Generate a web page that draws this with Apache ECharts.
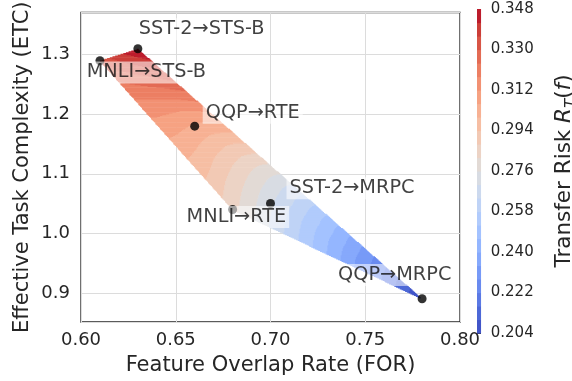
<!DOCTYPE html>
<html>
<head>
<meta charset="utf-8">
<script src="https://cdn.jsdelivr.net/npm/echarts@6/dist/echarts.min.js"></script>
<style>
html,body{margin:0;padding:0;background:#fff;}
#chart{width:572px;height:381px;}
</style>
</head>
<body>
<div id="chart"></div>
<script>
// ---------------- data ----------------
const taskPairs  = ['SST-2→STS-B', 'MNLI→STS-B', 'QQP→RTE', 'MNLI→RTE', 'SST-2→MRPC', 'QQP→MRPC'];
const forValues  = [0.63, 0.61, 0.66, 0.68, 0.70, 0.78];   // Feature Overlap Rate
const etcValues  = [1.31, 1.29, 1.18, 1.04, 1.05, 0.89];   // Effective Task Complexity
const riskValues = [0.348, 0.332, 0.305, 0.284, 0.271, 0.204]; // Transfer Risk
const riskLevels = [0.204, 0.210, 0.216, 0.222, 0.228, 0.234, 0.240, 0.246, 0.252,
                    0.258, 0.264, 0.270, 0.276, 0.282, 0.288, 0.294, 0.300, 0.306,
                    0.312, 0.318, 0.324, 0.330, 0.336, 0.342, 0.348];
const colorbarTicks = [0.204, 0.222, 0.240, 0.258, 0.276, 0.294, 0.312, 0.330, 0.348];

// ---------------- layout / style ----------------
const labelPlacement = [[1, -19.5], [-13.3, 11.7], [11, -13.5], [-46, 7.5], [19, -15.3], [-84, -23.7]];
const textColor = '#262626';
const fontFamily = '"DejaVu Sans", sans-serif';
const coolwarmTable = [
 [59,76,192],[68,90,204],[77,104,215],[87,117,225],[98,130,234],[108,142,241],[119,154,247],
 [130,165,251],[141,176,254],[152,185,255],[163,194,255],[174,201,253],[184,208,249],[194,213,244],
 [204,217,238],[213,219,230],[221,221,221],[229,216,209],[236,211,197],[241,204,184],[245,196,172],
 [247,187,159],[247,177,147],[247,166,134],[244,154,123],[241,141,111],[236,127,99],[229,112,88],
 [222,96,77],[213,80,66],[203,62,56],[192,40,47],[180,4,38]];

function coolwarm(t) {
  t = Math.max(0, Math.min(1, t));
  const p = t * (coolwarmTable.length - 1);
  const i = Math.min(Math.floor(p), coolwarmTable.length - 2);
  const f = p - i;
  const a = coolwarmTable[i], b = coolwarmTable[i + 1];
  const c = [0,1,2].map(k => Math.round(a[k] + (b[k] - a[k]) * f));
  return 'rgb(' + c.join(',') + ')';
}
const nBands = riskLevels.length - 1;
const bandColors = [];
for (let i = 0; i < nBands; i++) bandColors.push(coolwarm((i + 0.5) / nBands));

// ---------------- Delaunay triangulation (brute force) ----------------
const px = forValues, py = etcValues, fv = riskValues;
const nP = px.length;
const tris = [];
for (let i = 0; i < nP; i++) for (let j = i + 1; j < nP; j++) for (let k = j + 1; k < nP; k++) {
  const ax = px[i], ay = py[i], bx = px[j], by = py[j], cx = px[k], cy = py[k];
  const d = 2 * (ax * (by - cy) + bx * (cy - ay) + cx * (ay - by));
  if (Math.abs(d) < 1e-14) continue;
  const a2 = ax*ax + ay*ay, b2 = bx*bx + by*by, c2 = cx*cx + cy*cy;
  const ux = (a2 * (by - cy) + b2 * (cy - ay) + c2 * (ay - by)) / d;
  const uy = (a2 * (cx - bx) + b2 * (ax - cx) + c2 * (bx - ax)) / d;
  const r2 = (ax - ux) ** 2 + (ay - uy) ** 2;
  let ok = true;
  for (let m = 0; m < nP; m++) {
    if (m === i || m === j || m === k) continue;
    if ((px[m] - ux) ** 2 + (py[m] - uy) ** 2 < r2 * (1 - 1e-10)) { ok = false; break; }
  }
  if (ok) tris.push([i, j, k]);
}
const neighbors = tris.map((t, ti) => [0,1,2].map(k => {
  const a = t[(k + 1) % 3], b = t[(k + 2) % 3];
  for (let tj = 0; tj < tris.length; tj++) {
    if (tj === ti) continue;
    if (tris[tj].includes(a) && tris[tj].includes(b)) return tj;
  }
  return -1;
}));
function bary(ti, x, y) {
  const [i0, i1, i2] = tris[ti];
  const x0 = px[i0], y0 = py[i0], x1 = px[i1], y1 = py[i1], x2 = px[i2], y2 = py[i2];
  const det = (y1 - y2) * (x0 - x2) + (x2 - x1) * (y0 - y2);
  const b0 = ((y1 - y2) * (x - x2) + (x2 - x1) * (y - y2)) / det;
  const b1 = ((y2 - y0) * (x - x2) + (x0 - x2) * (y - y2)) / det;
  return [b0, b1, 1 - b0 - b1];
}

// ---------------- gradient estimation (global, min curvature) ----------------
const vnb = Array.from({length: nP}, () => new Set());
tris.forEach(t => t.forEach(a => t.forEach(b => { if (a !== b) vnb[a].add(b); })));
const gx = new Array(nP).fill(0), gy = new Array(nP).fill(0);
for (let it = 0; it < 400; it++) {
  let err = 0;
  for (let i = 0; i < nP; i++) {
    let q00 = 0, q01 = 0, q11 = 0, s0 = 0, s1 = 0;
    vnb[i].forEach(j => {
      const ex = px[j] - px[i], ey = py[j] - py[i];
      const L = Math.hypot(ex, ey), L3 = L * L * L;
      const df2 = -ex * gx[j] - ey * gy[j];
      q00 += 4 * ex * ex / L3; q01 += 4 * ex * ey / L3; q11 += 4 * ey * ey / L3;
      const t = 6 * (fv[i] - fv[j]) - 2 * df2;
      s0 += t * ex / L3; s1 += t * ey / L3;
    });
    const det = q00 * q11 - q01 * q01;
    const r0 = (q11 * s0 - q01 * s1) / det, r1 = (-q01 * s0 + q00 * s1) / det;
    err = Math.max(err, Math.abs(gx[i] + r0), Math.abs(gy[i] + r1));
    gx[i] = -r0; gy[i] = -r1;
  }
  if (err < 1e-9) break;
}

// ---------------- Clough-Tocher coefficients per triangle ----------------
const coeffs = tris.map((t, ti) => {
  const [i0, i1, i2] = t;
  const e12x = px[i1] - px[i0], e12y = py[i1] - py[i0];
  const e23x = px[i2] - px[i1], e23y = py[i2] - py[i1];
  const e31x = px[i0] - px[i2], e31y = py[i0] - py[i2];
  const df12 = +(gx[i0] * e12x + gy[i0] * e12y);
  const df21 = -(gx[i1] * e12x + gy[i1] * e12y);
  const df23 = +(gx[i1] * e23x + gy[i1] * e23y);
  const df32 = -(gx[i2] * e23x + gy[i2] * e23y);
  const df31 = +(gx[i2] * e31x + gy[i2] * e31y);
  const df13 = -(gx[i0] * e31x + gy[i0] * e31y);
  const c = {};
  c.c3000 = fv[i0]; c.c2100 = (df12 + 3 * c.c3000) / 3; c.c2010 = (df13 + 3 * c.c3000) / 3;
  c.c0300 = fv[i1]; c.c1200 = (df21 + 3 * c.c0300) / 3; c.c0210 = (df23 + 3 * c.c0300) / 3;
  c.c0030 = fv[i2]; c.c1020 = (df31 + 3 * c.c0030) / 3; c.c0120 = (df32 + 3 * c.c0030) / 3;
  c.c2001 = (c.c2100 + c.c2010 + c.c3000) / 3;
  c.c0201 = (c.c1200 + c.c0300 + c.c0210) / 3;
  c.c0021 = (c.c1020 + c.c0120 + c.c0030) / 3;
  const g = [0, 0, 0];
  for (let k = 0; k < 3; k++) {
    const nt = neighbors[ti][k];
    if (nt < 0) { g[k] = -0.5; continue; }
    const cx = (px[tris[nt][0]] + px[tris[nt][1]] + px[tris[nt][2]]) / 3;
    const cy = (py[tris[nt][0]] + py[tris[nt][1]] + py[tris[nt][2]]) / 3;
    const b = bary(ti, cx, cy);
    if (k === 0) g[k] = (2 * b[2] + b[1] - 1) / (2 - 3 * b[2] - 3 * b[1]);
    else if (k === 1) g[k] = (2 * b[0] + b[2] - 1) / (2 - 3 * b[0] - 3 * b[2]);
    else g[k] = (2 * b[1] + b[0] - 1) / (2 - 3 * b[1] - 3 * b[0]);
  }
  c.c0111 = (g[0] * (-c.c0300 + 3 * c.c0210 - 3 * c.c0120 + c.c0030) + (-c.c0300 + 2 * c.c0210 - c.c0120 + c.c0021 + c.c0201)) / 2;
  c.c1011 = (g[1] * (-c.c0030 + 3 * c.c1020 - 3 * c.c2010 + c.c3000) + (-c.c0030 + 2 * c.c1020 - c.c2010 + c.c2001 + c.c0021)) / 2;
  c.c1101 = (g[2] * (-c.c3000 + 3 * c.c2100 - 3 * c.c1200 + c.c0300) + (-c.c3000 + 2 * c.c2100 - c.c1200 + c.c2001 + c.c0201)) / 2;
  c.c1002 = (c.c1101 + c.c1011 + c.c2001) / 3;
  c.c0102 = (c.c1101 + c.c0111 + c.c0201) / 3;
  c.c0012 = (c.c1011 + c.c0111 + c.c0021) / 3;
  c.c0003 = (c.c1002 + c.c0102 + c.c0012) / 3;
  return c;
});
function interpRisk(x, y) {
  for (let ti = 0; ti < tris.length; ti++) {
    const b = bary(ti, x, y);
    if (b[0] < -1e-9 || b[1] < -1e-9 || b[2] < -1e-9) continue;
    const c = coeffs[ti];
    const m = Math.min(b[0], b[1], b[2]);
    const b1 = b[0] - m, b2 = b[1] - m, b3 = b[2] - m, b4 = 3 * m;
    return b1**3*c.c3000 + 3*b1*b1*b2*c.c2100 + 3*b1*b1*b3*c.c2010 + 3*b1*b1*b4*c.c2001 +
      3*b1*b2*b2*c.c1200 + 6*b1*b2*b4*c.c1101 + 3*b1*b3*b3*c.c1020 + 6*b1*b3*b4*c.c1011 +
      3*b1*b4*b4*c.c1002 + b2**3*c.c0300 + 3*b2*b2*b3*c.c0210 + 3*b2*b2*b4*c.c0201 +
      3*b2*b3*b3*c.c0120 + 6*b2*b3*b4*c.c0111 + 3*b2*b4*b4*c.c0102 + b3**3*c.c0030 +
      3*b3*b3*b4*c.c0021 + 3*b3*b4*b4*c.c0012 + b4**3*c.c0003;
  }
  return NaN;
}
function bandOf(v) {
  let k = 0;
  while (k < nBands - 1 && v >= riskLevels[k + 1]) k++;
  return k;
}

// ---------------- sample the field into row runs ----------------
const xMinD = Math.min(...px), xMaxD = Math.max(...px);
const yMinD = Math.min(...py), yMaxD = Math.max(...py);
const nCols = 360, nRows = 300;
const dx = (xMaxD - xMinD) / nCols, dy = (yMaxD - yMinD) / nRows;
const runs = [];
for (let r = 0; r < nRows; r++) {
  const y0 = yMinD + r * dy, y1 = y0 + dy, yc = y0 + dy / 2;
  let cur = -1, start = 0;
  for (let cIdx = 0; cIdx <= nCols; cIdx++) {
    let lv = -1;
    if (cIdx < nCols) {
      const v = interpRisk(xMinD + (cIdx + 0.5) * dx, yc);
      if (!isNaN(v)) lv = bandOf(v);
    }
    if (lv !== cur) {
      if (cur >= 0) runs.push([xMinD + start * dx, xMinD + cIdx * dx, y0, y1, cur]);
      cur = lv; start = cIdx;
    }
  }
}
const colorbarData = [];
for (let i = 0; i < nBands; i++) colorbarData.push([0, 1, riskLevels[i], riskLevels[i + 1], i]);

function rectItem(params, api) {
  const p0 = api.coord([api.value(0), api.value(3)]);
  const p1 = api.coord([api.value(1), api.value(2)]);
  return {
    type: 'rect',
    shape: { x: p0[0], y: p0[1], width: p1[0] - p0[0] + 0.3, height: p1[1] - p0[1] + 0.6 },
    style: { fill: bandColors[api.value(4)] }
  };
}

const scatterData = taskPairs.map((name, i) => ({
  name: name,
  value: [forValues[i], etcValues[i]],
  label: { offset: [labelPlacement[i][0] - 3, labelPlacement[i][1]] }
}));

const chart = echarts.init(document.getElementById('chart'), null, { renderer: 'canvas' });
chart.setOption({
  animation: false,
  backgroundColor: '#ffffff',
  textStyle: { fontFamily: fontFamily },
  grid: [
    { left: 81, top: 7.5, width: 379, height: 317.5, show: true, borderColor: textColor, borderWidth: 1.3, backgroundColor: 'transparent' },
    { left: 477, top: 9, width: 15, height: 324, show: false }
  ],
  xAxis: [
    {
      gridIndex: 0, type: 'value', min: 0.6, max: 0.8, interval: 0.05,
      axisLine: { show: false }, axisTick: { show: false },
      axisLabel: { fontSize: 18, color: textColor, margin: 9, formatter: v => v.toFixed(2), fontFamily: fontFamily },
      splitLine: { show: true, lineStyle: { color: '#dcdcdc', width: 1 } },
      name: 'Feature Overlap Rate (FOR)', nameLocation: 'middle', nameGap: 33, nameMoveOverlap: false,
      nameTextStyle: { fontSize: 21, color: textColor, fontFamily: fontFamily }
    },
    { gridIndex: 1, type: 'value', min: 0, max: 1, show: false }
  ],
  yAxis: [
    {
      gridIndex: 0, type: 'value', min: 0.851, max: 1.371, splitNumber: 5,
      axisLine: { show: false }, axisTick: { show: false },
      axisLabel: { fontSize: 18, color: textColor, margin: 11, showMinLabel: false, showMaxLabel: false,
                   formatter: v => v.toFixed(1), fontFamily: fontFamily },
      splitLine: { show: true, lineStyle: { color: '#dcdcdc', width: 1 } },
      name: 'Effective Task Complexity (ETC)', nameLocation: 'middle', nameGap: 48, nameMoveOverlap: false,
      nameTextStyle: { fontSize: 21, color: textColor, fontFamily: fontFamily }
    },
    {
      gridIndex: 1, type: 'value', position: 'right', min: colorbarTicks[0], max: colorbarTicks[colorbarTicks.length - 1],
      interval: 0.018,
      axisLine: { show: false },
      axisTick: { show: true, length: 4, lineStyle: { color: textColor, width: 1 } },
      axisLabel: { fontSize: 15, color: textColor, margin: 10, formatter: v => v.toFixed(3), fontFamily: fontFamily },
      splitLine: { show: false },
      name: '{a|Transfer Risk }{b|R}{c|T}{a|(}{b|f}{a|)}',
      nameLocation: 'middle', nameGap: 69, nameRotate: 90,
      nameTextStyle: {
        fontSize: 21.5, color: textColor, fontFamily: fontFamily,
        rich: {
          a: { fontSize: 21.5, color: textColor, fontFamily: fontFamily, lineHeight: 30, verticalAlign: 'middle' },
          b: { fontSize: 21.5, color: textColor, fontFamily: fontFamily, fontStyle: 'italic', lineHeight: 30, verticalAlign: 'middle' },
          c: { fontSize: 15, color: textColor, fontFamily: fontFamily, fontStyle: 'italic', lineHeight: 15, verticalAlign: 'bottom' }
        }
      }
    }
  ],
  series: [
    {
      type: 'custom', xAxisIndex: 0, yAxisIndex: 0, silent: true, clip: true,
      encode: { x: [0, 1], y: [2, 3] },
      renderItem: rectItem, data: runs, z: 1
    },
    {
      type: 'custom', xAxisIndex: 1, yAxisIndex: 1, silent: true,
      encode: { x: [0, 1], y: [2, 3] },
      renderItem: rectItem, data: colorbarData, z: 1
    },
    {
      type: 'scatter', xAxisIndex: 0, yAxisIndex: 0, symbol: 'circle', symbolSize: 9,
      itemStyle: { color: '#000000' }, z: 5,
      label: {
        show: true, position: 'inside', align: 'left', verticalAlign: 'middle',
        formatter: p => p.name, fontSize: 19.3, color: '#111111', fontFamily: fontFamily,
        backgroundColor: 'rgba(255,255,255,0.7)', padding: [2, 3, 1, 3]
      },
      data: scatterData
    }
  ]
});
</script>
</body>
</html>
